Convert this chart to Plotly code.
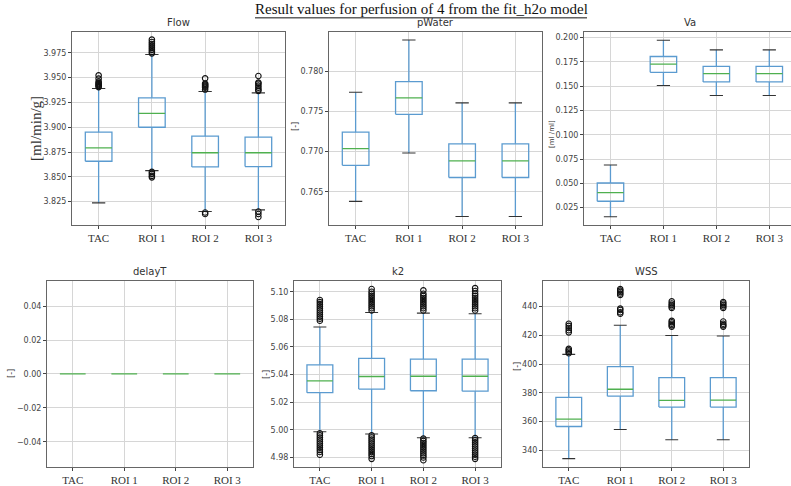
import plotly.graph_objects as go

W, H = 791, 486

categories = ["TAC", "ROI 1", "ROI 2", "ROI 3"]
panel_names = ["Flow", "pWater", "Va", "delayT", "k2", "WSS"]
units = ["[ml/min/g]", "[-]", "[ml /ml]", "[-]", "[-]", "[-]"]
main_title = "Result values for perfusion of 4 from the fit_h2o model"

# ---- data ----
flow_q1 = [3.8657, 3.9000, 3.8600, 3.8603]
flow_med = [3.8793, 3.9140, 3.8743, 3.8743]
flow_q3 = [3.8950, 3.9297, 3.8910, 3.8900]
flow_lo = [3.8237, 3.8563, 3.8150, 3.8167]
flow_hi = [3.9390, 3.9733, 3.9360, 3.9347]
flow_out = [
    [3.9405, 3.9415, 3.9425, 3.9435, 3.9445, 3.9460, 3.9490, 3.9523],
    [3.9745, 3.9760, 3.9780, 3.9800, 3.9820, 3.9840, 3.9860, 3.9883, 3.8550, 3.8530, 3.8510, 3.8495],
    [3.9380, 3.9400, 3.9410, 3.9420, 3.9430, 3.9440, 3.9493, 3.8140, 3.8125],
    [3.9367, 3.9380, 3.9400, 3.9420, 3.9440, 3.9450, 3.9517, 3.8150, 3.8125, 3.8095],
]

pwater_q1 = [0.76829, 0.77462, 0.76677, 0.76677]
pwater_med = [0.77035, 0.77667, 0.76883, 0.76883]
pwater_q3 = [0.77240, 0.77870, 0.77096, 0.77096]
pwater_lo = [0.76380, 0.76981, 0.76192, 0.76192]
pwater_hi = [0.77737, 0.78387, 0.77605, 0.77605]
pwater_out = [[], [], [], []]

va_q1 = [0.0315, 0.1643, 0.1544, 0.1544]
va_med = [0.0403, 0.1728, 0.1629, 0.1629]
va_q3 = [0.0503, 0.1806, 0.1704, 0.1704]
va_lo = [0.0155, 0.1507, 0.1404, 0.1404]
va_hi = [0.0689, 0.1973, 0.1874, 0.1874]
va_out = [[], [], [], []]

delay_q1 = [0.0, 0.0, 0.0, 0.0]
delay_med = [0.0, 0.0, 0.0, 0.0]
delay_q3 = [0.0, 0.0, 0.0, 0.0]
delay_lo = [0.0, 0.0, 0.0, 0.0]
delay_hi = [0.0, 0.0, 0.0, 0.0]
delay_out = [[], [], [], []]

k2_q1 = [5.0269, 5.0295, 5.0283, 5.0280]
k2_med = [5.0355, 5.0386, 5.0388, 5.0388]
k2_q3 = [5.0471, 5.0517, 5.0512, 5.0512]
k2_lo = [4.9986, 4.9970, 4.9943, 4.9943]
k2_hi = [5.0745, 5.0850, 5.0845, 5.0840]
k2_out = [
    [5.0790, 5.0805, 5.0820, 5.0835, 5.0850, 5.0865, 5.0880, 5.0895, 5.0910, 5.0925, 5.0940,
     4.9975, 4.9960, 4.9945, 4.9930, 4.9915, 4.9900, 4.9885, 4.9870, 4.9855, 4.9840, 4.9820],
    [5.0864, 5.0880, 5.0895, 5.0910, 5.0925, 5.0940, 5.0955, 5.0970, 5.0985, 5.1000, 5.1020,
     4.9960, 4.9945, 4.9930, 4.9915, 4.9900, 4.9885, 4.9870, 4.9855, 4.9840, 4.9825, 4.9810, 4.9790],
    [5.0864, 5.0880, 5.0895, 5.0910, 5.0925, 5.0940, 5.0955, 5.0970, 5.0985, 5.1010,
     4.9936, 4.9920, 4.9905, 4.9890, 4.9875, 4.9860, 4.9845, 4.9830, 4.9815, 4.9800, 4.9780],
    [5.0864, 5.0880, 5.0895, 5.0910, 5.0925, 5.0940, 5.0955, 5.0970, 5.0985, 5.1005, 5.1026,
     4.9940, 4.9925, 4.9910, 4.9895, 4.9880, 4.9865, 4.9850, 4.9835, 4.9820, 4.9805, 4.9790],
]

wss_q1 = [356.6, 377.7, 370.1, 370.1]
wss_med = [361.8, 382.5, 374.7, 374.9]
wss_q3 = [376.8, 398.2, 390.6, 390.6]
wss_lo = [334.3, 354.5, 347.4, 347.4]
wss_hi = [406.7, 426.9, 419.8, 419.5]
wss_out = [
    [407.5, 408.5, 409.5, 410.5, 422.0, 423.5, 425.0, 426.5, 428.0],
    [435.0, 436.0, 437.5, 438.5, 448.0, 449.0, 450.0, 451.0, 452.0],
    [426.0, 427.0, 428.0, 429.0, 430.0, 439.0, 440.0, 441.0, 442.0, 443.5],
    [426.0, 427.0, 428.0, 429.5, 439.0, 440.0, 441.0, 442.0, 443.0],
]

stats = [
    (flow_q1, flow_med, flow_q3, flow_lo, flow_hi, flow_out),
    (pwater_q1, pwater_med, pwater_q3, pwater_lo, pwater_hi, pwater_out),
    (va_q1, va_med, va_q3, va_lo, va_hi, va_out),
    (delay_q1, delay_med, delay_q3, delay_lo, delay_hi, delay_out),
    (k2_q1, k2_med, k2_q3, k2_lo, k2_hi, k2_out),
    (wss_q1, wss_med, wss_q3, wss_lo, wss_hi, wss_out),
]

# ---- layout (pixel frames: left, right, top, bottom) ----
frames = [
    (72, 285, 32, 227),
    (329, 542, 32, 227),
    (584, 791, 32, 227),
    (47, 253, 283, 471),
    (294, 501, 283, 471),
    (543, 749, 283, 471),
]
xranges = [[-0.5, 3.5], [-0.5, 3.5], [-0.5, 3.41], [-0.5, 3.5], [-0.5, 3.5], [-0.5, 3.5]]
yranges = [[3.8013, 3.9963], [0.76085, 0.78489], [0.0069, 0.2061],
           [-0.055, 0.055], [4.973, 5.108], [328.4, 457.9]]
ytick = [(3.825, 0.025, ".3f"), (0.765, 0.005, ".3f"), (0.025, 0.025, ".3f"),
         (-0.04, 0.02, ".2f"), (4.98, 0.02, ".2f"), (340, 20, "d")]
ylab_px = [(36, 130, "Liberation Serif", 15), (296, 128, "DejaVu Sans", 8),
           (552, 135, "DejaVu Sans", 7), (12, 377, "DejaVu Sans", 8),
           (267, 378, "DejaVu Sans", 8), (518, 370, "DejaVu Sans", 8)]

BOX = "#5b9bd0"
MED = "#4fb04f"
CAP = "#333333"
GRID = "#d6d6d6"
FRAME = "#666666"

fig = go.Figure()
annotations = []
hw, cw = 0.25, 0.125

for i in range(6):
    n = "" if i == 0 else str(i + 1)
    xa, ya = "x" + n, "y" + n
    q1, med, q3, lo, hi, outs = stats[i]
    bx, by, wx, wy, cx, cy, mx, my, ox, oy = [], [], [], [], [], [], [], [], [], []
    for j in range(len(categories)):
        bx += [j - hw, j + hw, j + hw, j - hw, j - hw, None]
        by += [q1[j], q1[j], q3[j], q3[j], q1[j], None]
        wx += [j, j, None, j, j, None]
        wy += [q1[j], lo[j], None, q3[j], hi[j], None]
        cx += [j - cw, j + cw, None, j - cw, j + cw, None]
        cy += [lo[j], lo[j], None, hi[j], hi[j], None]
        mx += [j - hw, j + hw, None]
        my += [med[j], med[j], None]
        ox += [j] * len(outs[j])
        oy += outs[j]
    common = dict(xaxis=xa, yaxis=ya, showlegend=False, hoverinfo="skip")
    if i != 3:
        fig.add_trace(go.Scatter(x=wx, y=wy, mode="lines", line=dict(color=BOX, width=1.3), **common))
        fig.add_trace(go.Scatter(x=cx, y=cy, mode="lines", line=dict(color=CAP, width=1.1), **common))
        fig.add_trace(go.Scatter(x=bx, y=by, mode="lines", line=dict(color=BOX, width=1.3), **common))
    fig.add_trace(go.Scatter(x=mx, y=my, mode="lines", line=dict(color=MED, width=1.3), **common))
    if ox:
        fig.add_trace(go.Scatter(x=ox, y=oy, mode="markers",
                                 marker=dict(symbol="circle-open", size=5.5, color="#111111",
                                             line=dict(width=1.1)), **common))

    l, r, t, b = frames[i]
    dom_x = [l / W, r / W]
    dom_y = [1 - b / H, 1 - t / H]
    t0, dt, fmt = ytick[i]
    fig.layout["xaxis" + n] = dict(
        domain=dom_x, range=xranges[i], anchor=ya,
        tickmode="array", tickvals=list(range(len(categories))), ticktext=categories,
        showgrid=True, gridcolor=GRID, gridwidth=1, zeroline=False,
        showline=True, linecolor=FRAME, linewidth=1, mirror=True,
        ticks="outside", ticklen=3, tickcolor="#444",
        tickfont=dict(family="Liberation Serif", size=11, color="#333"),
    )
    fig.layout["yaxis" + n] = dict(
        domain=dom_y, range=yranges[i], anchor=xa,
        tick0=t0, dtick=dt, tickformat=fmt,
        showgrid=True, gridcolor=GRID, gridwidth=1, zeroline=False,
        showline=True, linecolor=FRAME, linewidth=1, mirror=(i != 2),
        ticks="outside", ticklen=3, tickcolor="#444",
        tickfont=dict(family="DejaVu Sans", size=8, color="#444"),
    )
    annotations.append(dict(text=panel_names[i], xref="paper", yref="paper",
                            x=(l + r) / 2 / W if i != 2 else (584 + 796) / 2 / W,
                            y=1 - (t - 2) / H, xanchor="center", yanchor="bottom",
                            showarrow=False, font=dict(family="DejaVu Sans", size=10, color="#333")))
    px, py, fam, fs = ylab_px[i]
    annotations.append(dict(text=units[i], xref="paper", yref="paper", x=px / W, y=1 - py / H,
                            xanchor="center", yanchor="middle", textangle=-90, showarrow=False,
                            font=dict(family=fam, size=fs, color="#333")))

annotations.append(dict(text=main_title,
                        xref="paper", yref="paper", x=421 / W, y=1 - 9 / H,
                        xanchor="center", yanchor="middle", showarrow=False,
                        font=dict(family="Liberation Serif", size=15, color="#111")))

shapes = [dict(type="line", xref="paper", yref="paper",
               x0=255 / W, x1=587 / W, y0=1 - 18 / H, y1=1 - 18 / H,
               line=dict(color="#111", width=1))]

fig.update_layout(width=W, height=H, margin=dict(l=0, r=0, t=0, b=0),
                  paper_bgcolor="white", plot_bgcolor="white",
                  annotations=annotations, shapes=shapes)

fig.write_html("out.html")
